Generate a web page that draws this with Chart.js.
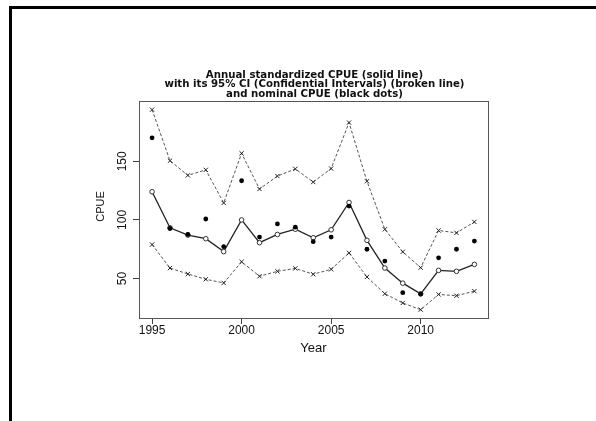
<!DOCTYPE html>
<html lang="en">
<head>
    <meta charset="UTF-8">
    <title>Annual standardized CPUE</title>
    <style>
        html, body {
            margin: 0;
            padding: 0;
            background: #fff;
        }

        #wrap {
            width: 596px;
            height: 421px;
        }
    </style>
    <script src="https://cdn.jsdelivr.net/npm/chart.js"></script>
</head>
<body>
    <div id="wrap">
        <canvas id="cpue-chart" width="596" height="421"></canvas>
    </div>
    <script>
        const years = [1995, 1996, 1997, 1998, 1999, 2000, 2001, 2002, 2003, 2004,
                       2005, 2006, 2007, 2008, 2009, 2010, 2011, 2012, 2013];
        const upperCI = [194, 150.5, 138, 142.7, 114.5, 156.8, 126.4, 137.4, 143.5, 132.3,
                         143.8, 183, 133, 92, 72.8, 59.3, 91, 89, 98.3];
        const standardized = [124, 93.3, 87.1, 84, 73, 100, 80.6, 87.6, 92.1, 84.8,
                              91.6, 114.9, 82.6, 59, 46.1, 37, 57, 56.2, 62.1];
        const nominal = [170, 92.7, 87.6, 100.8, 77.2, 133.4, 85.4, 96.6, 93.8, 81.5,
                         85.4, 111.8, 75, 64.9, 38, 36.8, 67.7, 75, 82];
        const lowerCI = [79, 59, 53.9, 49.4, 46.3, 64.3, 52, 56.2, 58.7, 53.7,
                         57.9, 71.9, 51.4, 37.1, 29.2, 23.5, 36.5, 35.4, 39.3];

        const xTicks = [1995, 2000, 2005, 2010];
        const yTicks = [50, 100, 150];
        const titleLines = [
            'Annual standardized CPUE (solid line)',
            'with its 95% CI (Confidential Intervals) (broken line)',
            'and nominal CPUE (black dots)'
        ];
        const xTitle = 'Year';
        const yTitle = 'CPUE';

        const toPoints = arr => arr.map((v, i) => ({ x: years[i], y: v }));

        // R-style decorations: outer frame, plot box, titles and tick labels
        const rStyle = {
            id: 'rStyle',
            beforeDraw(chart) {
                const ctx = chart.ctx;
                ctx.save();
                ctx.fillStyle = '#fff';
                ctx.fillRect(0, 0, chart.width, chart.height);
                ctx.fillStyle = '#000';
                ctx.fillRect(9, 6, chart.width - 9, 3);
                ctx.fillRect(9, 6, 3, chart.height - 6);
                ctx.restore();
            },
            afterDraw(chart) {
                const ctx = chart.ctx;
                const area = chart.chartArea;
                const xs = chart.scales.x;
                const ys = chart.scales.y;
                const midX = (area.left + area.right) / 2;
                const midY = (area.top + area.bottom) / 2;

                ctx.save();
                ctx.strokeStyle = '#555';
                ctx.lineWidth = 1;
                ctx.strokeRect(Math.round(area.left) + 0.5, Math.round(area.top) + 0.5,
                    Math.round(area.right - area.left), Math.round(area.bottom - area.top));

                ctx.fillStyle = '#111';
                ctx.textAlign = 'center';
                ctx.textBaseline = 'middle';

                ctx.font = 'bold 10.2px "DejaVu Sans"';
                titleLines.forEach((t, i) => {
                    ctx.fillText(t, midX + 1, 75 + i * 9.7);
                });

                ctx.font = '12px "Liberation Sans"';
                xs.ticks.forEach(t => {
                    ctx.fillText(String(t.value), xs.getPixelForValue(t.value), 331);
                });
                ctx.font = '13px "Liberation Sans"';
                ctx.fillText(xTitle, midX, 348);

                ctx.font = '12px "Liberation Sans"';
                ys.ticks.forEach(t => {
                    ctx.save();
                    ctx.translate(123, ys.getPixelForValue(t.value));
                    ctx.rotate(-Math.PI / 2);
                    ctx.fillText(String(t.value), 0, 0);
                    ctx.restore();
                });
                ctx.save();
                ctx.translate(101, midY - 3);
                ctx.rotate(-Math.PI / 2);
                ctx.font = '11px "Liberation Sans"';
                ctx.fillText(yTitle, 0, 0);
                ctx.restore();
                ctx.restore();
            }
        };

        const ciStyle = {
            borderColor: '#555',
            borderWidth: 1,
            borderDash: [3, 2],
            pointStyle: 'crossRot',
            pointRadius: 3,
            pointBorderColor: '#222',
            pointBorderWidth: 1,
            fill: false,
            tension: 0
        };

        new Chart(document.getElementById('cpue-chart'), {
            type: 'line',
            data: {
                datasets: [
                    Object.assign({ label: 'Upper 95% CI', data: toPoints(upperCI), order: 3 }, ciStyle),
                    Object.assign({ label: 'Lower 95% CI', data: toPoints(lowerCI), order: 3 }, ciStyle),
                    {
                        label: 'Standardized CPUE',
                        data: toPoints(standardized),
                        borderColor: '#222',
                        borderWidth: 1.3,
                        pointStyle: 'circle',
                        pointRadius: 2.3,
                        pointBackgroundColor: '#fff',
                        pointBorderColor: '#333',
                        pointBorderWidth: 1,
                        fill: false,
                        tension: 0,
                        order: 2
                    },
                    {
                        label: 'Nominal CPUE',
                        data: toPoints(nominal),
                        showLine: false,
                        pointStyle: 'circle',
                        pointRadius: 2.4,
                        pointBackgroundColor: '#000',
                        pointBorderColor: '#000',
                        pointBorderWidth: 0,
                        order: 1
                    }
                ]
            },
            options: {
                responsive: false,
                animation: false,
                devicePixelRatio: 1,
                layout: {
                    padding: { left: 139, top: 101, right: 108, bottom: 103 }
                },
                plugins: {
                    legend: { display: false },
                    title: { display: false },
                    tooltip: { enabled: false }
                },
                scales: {
                    x: {
                        type: 'linear',
                        min: 1994.27,
                        max: 2013.76,
                        afterBuildTicks: s => { s.ticks = xTicks.map(v => ({ value: v })); },
                        afterFit: s => { s.height = 0; },
                        ticks: { display: false },
                        grid: {
                            drawOnChartArea: false,
                            drawTicks: true,
                            tickLength: 6,
                            color: '#444',
                            lineWidth: 1
                        },
                        border: { display: false }
                    },
                    y: {
                        type: 'linear',
                        min: 16.4,
                        max: 201.4,
                        afterBuildTicks: s => { s.ticks = yTicks.map(v => ({ value: v })); },
                        afterFit: s => { s.width = 0; },
                        ticks: { display: false },
                        grid: {
                            drawOnChartArea: false,
                            drawTicks: true,
                            tickLength: 6,
                            color: '#444',
                            lineWidth: 1
                        },
                        border: { display: false }
                    }
                }
            },
            plugins: [rStyle]
        });
    </script>
</body>
</html>
